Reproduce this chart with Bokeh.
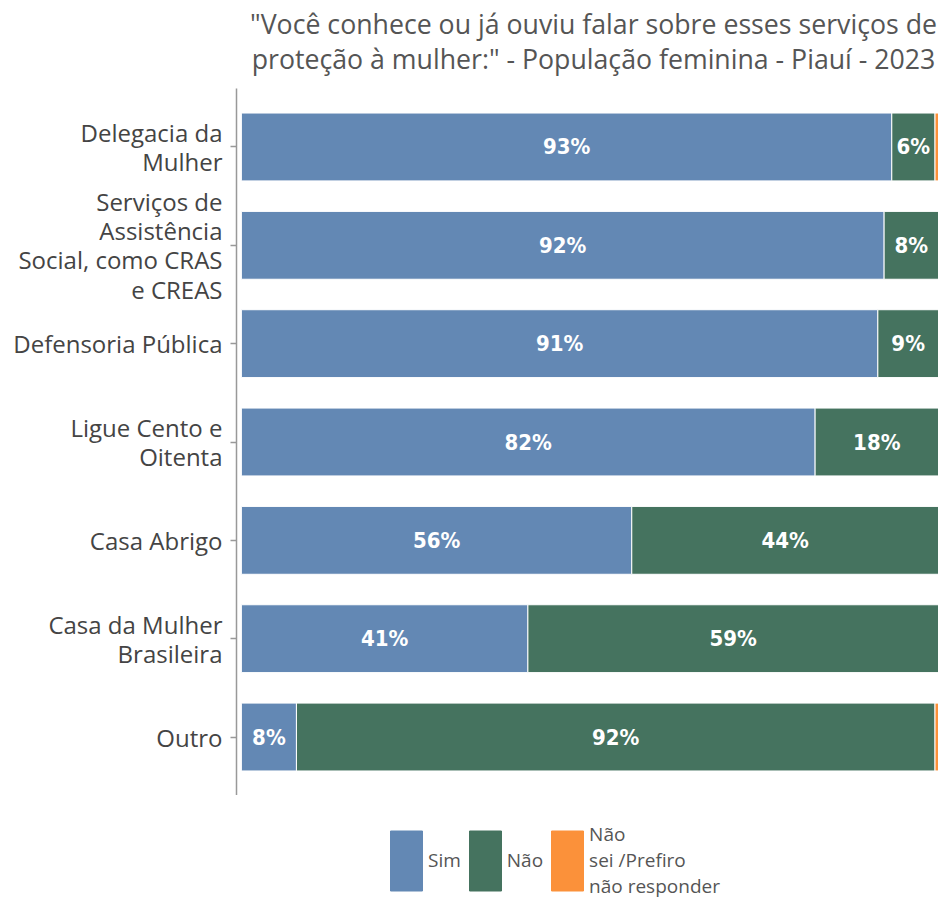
from bokeh.plotting import figure
from bokeh.layouts import column
from bokeh.models import ColumnDataSource, FactorRange, Legend, LegendItem, Label, Range1d
from bokeh.core.properties import value
from bokeh.embed import file_html
from bokeh.resources import INLINE

categories = [
    "Delegacia da\nMulher",
    "Serviços de\nAssistência\nSocial, como CRAS\ne CREAS",
    "Defensoria Pública",
    "Ligue Cento e\nOitenta",
    "Casa Abrigo",
    "Casa da Mulher\nBrasileira",
    "Outro",
]
sim = [93.3, 92.2, 91.3, 82.3, 56.0, 41.1, 7.9]
nao = [6.2, 7.8, 8.7, 17.7, 44.0, 58.9, 91.6]
nsp = [0.5, 0.0, 0.0, 0.0, 0.0, 0.0, 0.5]
series = ["Sim", "Não", "Não\nsei /Prefiro\nnão responder"]
colors = ["#6388b4", "#45735f", "#fb913a"]
title_lines = ['"Você conhece ou já ouviu falar sobre esses serviços de',
               'proteção à mulher:" - População feminina - Piauí - 2023']


def strip(h):
    f = figure(width=938, height=h, output_backend="svg", toolbar_location=None,
               x_range=Range1d(0, 1), y_range=Range1d(0, 1))
    f.min_border_left = 0
    f.min_border_right = 0
    f.min_border_top = 0
    f.min_border_bottom = 0
    f.outline_line_color = None
    f.axis.visible = False
    f.grid.visible = False
    return f


# title strip
p0 = strip(88)
for txt, yy in zip(title_lines, [65, 30]):
    p0.add_layout(Label(x=357, y=yy, x_units="screen", y_units="screen", text=txt,
                        text_align="center", text_baseline="middle",
                        text_font="Open Sans", text_font_size="26.7px",
                        text_color="#555555"))

src = ColumnDataSource(dict(cat=categories, sim=sim, nao=nao, nsp=nsp))

p = figure(frame_width=702, frame_height=707, output_backend="svg", toolbar_location=None,
           y_range=FactorRange(*categories[::-1], range_padding=0.027),
           x_range=Range1d(-0.7, 100), title=None)
p.min_border_left = 236
p.min_border_right = 0
p.min_border_top = 0
p.min_border_bottom = 0
p.outline_line_color = None
p.xgrid.visible = False
p.ygrid.visible = False
p.xaxis.visible = False

rs = p.hbar_stack(["sim", "nao", "nsp"], y="cat", height=0.69, color=colors,
                  line_color="white", line_width=1, source=src)

# labels
lx, ly, lt = [], [], []
for c, s, n in zip(categories, sim, nao):
    if s >= 3:
        lx.append(s / 2); ly.append(c); lt.append(f"{round(s)}%")
    if n >= 3:
        lx.append(s + n / 2); ly.append(c); lt.append(f"{round(n)}%")
lsrc = ColumnDataSource(dict(x=lx, y=ly, t=lt))
p.text(x="x", y="y", text="t", source=lsrc, text_align="center", text_baseline="middle",
       text_color="white", text_font=value("DejaVu Sans Condensed, Roboto, sans-serif"),
       text_font_style="bold", text_font_size="22px")

ax = p.yaxis[0]
ax.axis_line_color = "#999999"
ax.axis_line_width = 1.5
ax.major_tick_line_color = "#999999"
ax.major_tick_line_width = 1.5
ax.major_tick_out = 6
ax.major_tick_in = 0
ax.major_label_text_font = "Open Sans"
ax.major_label_text_font_size = "24px"
ax.major_label_text_line_height = 0.89
ax.major_label_text_color = "#444444"
ax.major_label_standoff = 8

# legend strip below the chart
p2 = strip(104)
lr = [p2.hbar(y=[5], left=[4], right=[5], height=0.5, color=c) for c in colors]
legend = Legend(items=[LegendItem(label=s, renderers=[r]) for s, r in zip(series, lr)],
                orientation="horizontal", location=(150, 0),
                glyph_width=40, glyph_height=75, label_text_font="Open Sans",
                label_text_font_size="19px", label_text_color="#555555",
                label_text_line_height=0.75,
                spacing=4, padding=0, margin=0, border_line_color=None,
                background_fill_alpha=0, label_standoff=2)
p2.add_layout(legend, "center")

open("out.html", "w").write(file_html(column(p0, p, p2, spacing=0), INLINE))
